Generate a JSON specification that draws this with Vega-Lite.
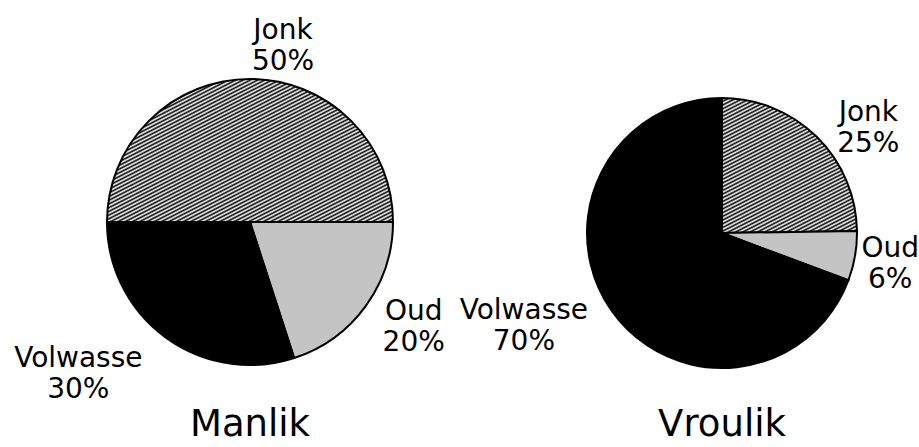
{
  "$schema": "https://vega.github.io/schema/vega-lite/v6.json",
  "padding": {"left": 0, "top": 0, "right": 0, "bottom": -19},
  "background": "white",
  "spacing": 25,
  "bounds": "flush",
  "config": {
    "view": {"stroke": null},
    "font": "DejaVu Sans",
    "title": {"font": "DejaVu Sans", "fontSize": 37, "fontWeight": "normal", "color": "black", "orient": "bottom", "anchor": "middle", "baseline": "alphabetic"},
    "text": {"font": "DejaVu Sans", "fontSize": 28, "color": "black", "lineHeight": 31, "lineBreak": "\n", "align": "center", "baseline": "middle"}
  },
  "datasets": {
    "manlik": [
      {"age": "Jonk", "pct": 50, "rank": 1, "label": "Jonk\n50%"},
      {"age": "Oud", "pct": 20, "rank": 2, "label": "Oud\n20%"},
      {"age": "Volwasse", "pct": 30, "rank": 3, "label": "Volwasse\n30%"}
    ],
    "vroulik": [
      {"age": "Jonk", "pct": 25, "rank": 1, "label": "Jonk\n25%"},
      {"age": "Oud", "pct": 6, "rank": 2, "label": "Oud\n6%"},
      {"age": "Volwasse", "pct": 70, "rank": 3, "label": "Volwasse\n70%"}
    ]
  },
  "hconcat": [
    {
      "width": 500,
      "height": 444,
      "title": {"text": "Manlik", "offset": -37},
      "data": {"name": "manlik"},
      "encoding": {
        "theta": {"field": "pct", "type": "quantitative", "stack": true, "scale": {"range": [-1.5707963, 4.712389]}},
        "order": {"field": "rank", "type": "quantitative"}
      },
      "layer": [
        {
          "mark": {"type": "arc", "outerRadius": 143, "stroke": "black", "strokeWidth": 2},
          "encoding": {
            "color": {
              "condition": {"test": "datum.age === 'Jonk'", "value": {"gradient": "linear", "x1": 0, "y1": 0, "x2": 1.1655, "y2": 1.1434, "stops": [
{"offset":0,"color":"#000"},{"offset":0.0056,"color":"#fff"},{"offset":0.0111,"color":"#000"},{"offset":0.0167,"color":"#fff"},{"offset":0.0222,"color":"#000"},{"offset":0.0278,"color":"#fff"},{"offset":0.0333,"color":"#000"},{"offset":0.0389,"color":"#fff"},{"offset":0.0444,"color":"#000"},{"offset":0.05,"color":"#fff"},{"offset":0.0556,"color":"#000"},{"offset":0.0611,"color":"#fff"},{"offset":0.0667,"color":"#000"},{"offset":0.0722,"color":"#fff"},{"offset":0.0778,"color":"#000"},{"offset":0.0833,"color":"#fff"},{"offset":0.0889,"color":"#000"},{"offset":0.0944,"color":"#fff"},
{"offset":0.1,"color":"#000"},{"offset":0.1056,"color":"#fff"},{"offset":0.1111,"color":"#000"},{"offset":0.1167,"color":"#fff"},{"offset":0.1222,"color":"#000"},{"offset":0.1278,"color":"#fff"},{"offset":0.1333,"color":"#000"},{"offset":0.1389,"color":"#fff"},{"offset":0.1444,"color":"#000"},{"offset":0.15,"color":"#fff"},{"offset":0.1556,"color":"#000"},{"offset":0.1611,"color":"#fff"},{"offset":0.1667,"color":"#000"},{"offset":0.1722,"color":"#fff"},{"offset":0.1778,"color":"#000"},{"offset":0.1833,"color":"#fff"},{"offset":0.1889,"color":"#000"},{"offset":0.1944,"color":"#fff"},
{"offset":0.2,"color":"#000"},{"offset":0.2056,"color":"#fff"},{"offset":0.2111,"color":"#000"},{"offset":0.2167,"color":"#fff"},{"offset":0.2222,"color":"#000"},{"offset":0.2278,"color":"#fff"},{"offset":0.2333,"color":"#000"},{"offset":0.2389,"color":"#fff"},{"offset":0.2444,"color":"#000"},{"offset":0.25,"color":"#fff"},{"offset":0.2556,"color":"#000"},{"offset":0.2611,"color":"#fff"},{"offset":0.2667,"color":"#000"},{"offset":0.2722,"color":"#fff"},{"offset":0.2778,"color":"#000"},{"offset":0.2833,"color":"#fff"},{"offset":0.2889,"color":"#000"},{"offset":0.2944,"color":"#fff"},
{"offset":0.3,"color":"#000"},{"offset":0.3056,"color":"#fff"},{"offset":0.3111,"color":"#000"},{"offset":0.3167,"color":"#fff"},{"offset":0.3222,"color":"#000"},{"offset":0.3278,"color":"#fff"},{"offset":0.3333,"color":"#000"},{"offset":0.3389,"color":"#fff"},{"offset":0.3444,"color":"#000"},{"offset":0.35,"color":"#fff"},{"offset":0.3556,"color":"#000"},{"offset":0.3611,"color":"#fff"},{"offset":0.3667,"color":"#000"},{"offset":0.3722,"color":"#fff"},{"offset":0.3778,"color":"#000"},{"offset":0.3833,"color":"#fff"},{"offset":0.3889,"color":"#000"},{"offset":0.3944,"color":"#fff"},
{"offset":0.4,"color":"#000"},{"offset":0.4056,"color":"#fff"},{"offset":0.4111,"color":"#000"},{"offset":0.4167,"color":"#fff"},{"offset":0.4222,"color":"#000"},{"offset":0.4278,"color":"#fff"},{"offset":0.4333,"color":"#000"},{"offset":0.4389,"color":"#fff"},{"offset":0.4444,"color":"#000"},{"offset":0.45,"color":"#fff"},{"offset":0.4556,"color":"#000"},{"offset":0.4611,"color":"#fff"},{"offset":0.4667,"color":"#000"},{"offset":0.4722,"color":"#fff"},{"offset":0.4778,"color":"#000"},{"offset":0.4833,"color":"#fff"},{"offset":0.4889,"color":"#000"},{"offset":0.4944,"color":"#fff"},
{"offset":0.5,"color":"#000"},{"offset":0.5056,"color":"#fff"},{"offset":0.5111,"color":"#000"},{"offset":0.5167,"color":"#fff"},{"offset":0.5222,"color":"#000"},{"offset":0.5278,"color":"#fff"},{"offset":0.5333,"color":"#000"},{"offset":0.5389,"color":"#fff"},{"offset":0.5444,"color":"#000"},{"offset":0.55,"color":"#fff"},{"offset":0.5556,"color":"#000"},{"offset":0.5611,"color":"#fff"},{"offset":0.5667,"color":"#000"},{"offset":0.5722,"color":"#fff"},{"offset":0.5778,"color":"#000"},{"offset":0.5833,"color":"#fff"},{"offset":0.5889,"color":"#000"},{"offset":0.5944,"color":"#fff"},
{"offset":0.6,"color":"#000"},{"offset":0.6056,"color":"#fff"},{"offset":0.6111,"color":"#000"},{"offset":0.6167,"color":"#fff"},{"offset":0.6222,"color":"#000"},{"offset":0.6278,"color":"#fff"},{"offset":0.6333,"color":"#000"},{"offset":0.6389,"color":"#fff"},{"offset":0.6444,"color":"#000"},{"offset":0.65,"color":"#fff"},{"offset":0.6556,"color":"#000"},{"offset":0.6611,"color":"#fff"},{"offset":0.6667,"color":"#000"},{"offset":0.6722,"color":"#fff"},{"offset":0.6778,"color":"#000"},{"offset":0.6833,"color":"#fff"},{"offset":0.6889,"color":"#000"},{"offset":0.6944,"color":"#fff"},
{"offset":0.7,"color":"#000"},{"offset":0.7056,"color":"#fff"},{"offset":0.7111,"color":"#000"},{"offset":0.7167,"color":"#fff"},{"offset":0.7222,"color":"#000"},{"offset":0.7278,"color":"#fff"},{"offset":0.7333,"color":"#000"},{"offset":0.7389,"color":"#fff"},{"offset":0.7444,"color":"#000"},{"offset":0.75,"color":"#fff"},{"offset":0.7556,"color":"#000"},{"offset":0.7611,"color":"#fff"},{"offset":0.7667,"color":"#000"},{"offset":0.7722,"color":"#fff"},{"offset":0.7778,"color":"#000"},{"offset":0.7833,"color":"#fff"},{"offset":0.7889,"color":"#000"},{"offset":0.7944,"color":"#fff"},
{"offset":0.8,"color":"#000"},{"offset":0.8056,"color":"#fff"},{"offset":0.8111,"color":"#000"},{"offset":0.8167,"color":"#fff"},{"offset":0.8222,"color":"#000"},{"offset":0.8278,"color":"#fff"},{"offset":0.8333,"color":"#000"},{"offset":0.8389,"color":"#fff"},{"offset":0.8444,"color":"#000"},{"offset":0.85,"color":"#fff"},{"offset":0.8556,"color":"#000"},{"offset":0.8611,"color":"#fff"},{"offset":0.8667,"color":"#000"},{"offset":0.8722,"color":"#fff"},{"offset":0.8778,"color":"#000"},{"offset":0.8833,"color":"#fff"},{"offset":0.8889,"color":"#000"},{"offset":0.8944,"color":"#fff"},
{"offset":0.9,"color":"#000"},{"offset":0.9056,"color":"#fff"},{"offset":0.9111,"color":"#000"},{"offset":0.9167,"color":"#fff"},{"offset":0.9222,"color":"#000"},{"offset":0.9278,"color":"#fff"},{"offset":0.9333,"color":"#000"},{"offset":0.9389,"color":"#fff"},{"offset":0.9444,"color":"#000"},{"offset":0.95,"color":"#fff"},{"offset":0.9556,"color":"#000"},{"offset":0.9611,"color":"#fff"},{"offset":0.9667,"color":"#000"},{"offset":0.9722,"color":"#fff"},{"offset":0.9778,"color":"#000"},{"offset":0.9833,"color":"#fff"},{"offset":0.9889,"color":"#000"},{"offset":0.9944,"color":"#fff"},
{"offset":1,"color":"#000"}]}},
              "field": "age", "type": "nominal", "legend": null,
              "scale": {"domain": ["Jonk", "Oud", "Volwasse"], "range": ["#808080", "#c4c4c4", "#000000"]}
            }
          }
        },
        {
          "mark": {"type": "text", "radius": 190,
            "dx": {"expr": "datum.age === 'Jonk' ? 33 : datum.age === 'Oud' ? 10 : -60"},
            "dy": {"expr": "datum.age === 'Jonk' ? -1 : datum.age === 'Oud' ? -22 : -17"}},
          "encoding": {
            "detail": {"field": "age", "type": "nominal"},
            "text": {"field": "label", "type": "nominal"}
          }
        }
      ]
    },
    {
      "width": 394,
      "height": 466,
      "title": {"text": "Vroulik", "offset": -59},
      "data": {"name": "vroulik"},
      "encoding": {
        "theta": {"field": "pct", "type": "quantitative", "stack": true},
        "order": {"field": "rank", "type": "quantitative"}
      },
      "layer": [
        {
          "mark": {"type": "arc", "outerRadius": 135, "stroke": "black", "strokeWidth": 2},
          "encoding": {
            "color": {
              "condition": {"test": "datum.age === 'Jonk'", "value": {"gradient": "linear", "x1": 0, "y1": 0, "x2": 1, "y2": 1.963, "stops": [
{"offset":0,"color":"#000"},{"offset":0.0056,"color":"#fff"},{"offset":0.0111,"color":"#000"},{"offset":0.0167,"color":"#fff"},{"offset":0.0222,"color":"#000"},{"offset":0.0278,"color":"#fff"},{"offset":0.0333,"color":"#000"},{"offset":0.0389,"color":"#fff"},{"offset":0.0444,"color":"#000"},{"offset":0.05,"color":"#fff"},{"offset":0.0556,"color":"#000"},{"offset":0.0611,"color":"#fff"},{"offset":0.0667,"color":"#000"},{"offset":0.0722,"color":"#fff"},{"offset":0.0778,"color":"#000"},{"offset":0.0833,"color":"#fff"},{"offset":0.0889,"color":"#000"},{"offset":0.0944,"color":"#fff"},
{"offset":0.1,"color":"#000"},{"offset":0.1056,"color":"#fff"},{"offset":0.1111,"color":"#000"},{"offset":0.1167,"color":"#fff"},{"offset":0.1222,"color":"#000"},{"offset":0.1278,"color":"#fff"},{"offset":0.1333,"color":"#000"},{"offset":0.1389,"color":"#fff"},{"offset":0.1444,"color":"#000"},{"offset":0.15,"color":"#fff"},{"offset":0.1556,"color":"#000"},{"offset":0.1611,"color":"#fff"},{"offset":0.1667,"color":"#000"},{"offset":0.1722,"color":"#fff"},{"offset":0.1778,"color":"#000"},{"offset":0.1833,"color":"#fff"},{"offset":0.1889,"color":"#000"},{"offset":0.1944,"color":"#fff"},
{"offset":0.2,"color":"#000"},{"offset":0.2056,"color":"#fff"},{"offset":0.2111,"color":"#000"},{"offset":0.2167,"color":"#fff"},{"offset":0.2222,"color":"#000"},{"offset":0.2278,"color":"#fff"},{"offset":0.2333,"color":"#000"},{"offset":0.2389,"color":"#fff"},{"offset":0.2444,"color":"#000"},{"offset":0.25,"color":"#fff"},{"offset":0.2556,"color":"#000"},{"offset":0.2611,"color":"#fff"},{"offset":0.2667,"color":"#000"},{"offset":0.2722,"color":"#fff"},{"offset":0.2778,"color":"#000"},{"offset":0.2833,"color":"#fff"},{"offset":0.2889,"color":"#000"},{"offset":0.2944,"color":"#fff"},
{"offset":0.3,"color":"#000"},{"offset":0.3056,"color":"#fff"},{"offset":0.3111,"color":"#000"},{"offset":0.3167,"color":"#fff"},{"offset":0.3222,"color":"#000"},{"offset":0.3278,"color":"#fff"},{"offset":0.3333,"color":"#000"},{"offset":0.3389,"color":"#fff"},{"offset":0.3444,"color":"#000"},{"offset":0.35,"color":"#fff"},{"offset":0.3556,"color":"#000"},{"offset":0.3611,"color":"#fff"},{"offset":0.3667,"color":"#000"},{"offset":0.3722,"color":"#fff"},{"offset":0.3778,"color":"#000"},{"offset":0.3833,"color":"#fff"},{"offset":0.3889,"color":"#000"},{"offset":0.3944,"color":"#fff"},
{"offset":0.4,"color":"#000"},{"offset":0.4056,"color":"#fff"},{"offset":0.4111,"color":"#000"},{"offset":0.4167,"color":"#fff"},{"offset":0.4222,"color":"#000"},{"offset":0.4278,"color":"#fff"},{"offset":0.4333,"color":"#000"},{"offset":0.4389,"color":"#fff"},{"offset":0.4444,"color":"#000"},{"offset":0.45,"color":"#fff"},{"offset":0.4556,"color":"#000"},{"offset":0.4611,"color":"#fff"},{"offset":0.4667,"color":"#000"},{"offset":0.4722,"color":"#fff"},{"offset":0.4778,"color":"#000"},{"offset":0.4833,"color":"#fff"},{"offset":0.4889,"color":"#000"},{"offset":0.4944,"color":"#fff"},
{"offset":0.5,"color":"#000"},{"offset":0.5056,"color":"#fff"},{"offset":0.5111,"color":"#000"},{"offset":0.5167,"color":"#fff"},{"offset":0.5222,"color":"#000"},{"offset":0.5278,"color":"#fff"},{"offset":0.5333,"color":"#000"},{"offset":0.5389,"color":"#fff"},{"offset":0.5444,"color":"#000"},{"offset":0.55,"color":"#fff"},{"offset":0.5556,"color":"#000"},{"offset":0.5611,"color":"#fff"},{"offset":0.5667,"color":"#000"},{"offset":0.5722,"color":"#fff"},{"offset":0.5778,"color":"#000"},{"offset":0.5833,"color":"#fff"},{"offset":0.5889,"color":"#000"},{"offset":0.5944,"color":"#fff"},
{"offset":0.6,"color":"#000"},{"offset":0.6056,"color":"#fff"},{"offset":0.6111,"color":"#000"},{"offset":0.6167,"color":"#fff"},{"offset":0.6222,"color":"#000"},{"offset":0.6278,"color":"#fff"},{"offset":0.6333,"color":"#000"},{"offset":0.6389,"color":"#fff"},{"offset":0.6444,"color":"#000"},{"offset":0.65,"color":"#fff"},{"offset":0.6556,"color":"#000"},{"offset":0.6611,"color":"#fff"},{"offset":0.6667,"color":"#000"},{"offset":0.6722,"color":"#fff"},{"offset":0.6778,"color":"#000"},{"offset":0.6833,"color":"#fff"},{"offset":0.6889,"color":"#000"},{"offset":0.6944,"color":"#fff"},
{"offset":0.7,"color":"#000"},{"offset":0.7056,"color":"#fff"},{"offset":0.7111,"color":"#000"},{"offset":0.7167,"color":"#fff"},{"offset":0.7222,"color":"#000"},{"offset":0.7278,"color":"#fff"},{"offset":0.7333,"color":"#000"},{"offset":0.7389,"color":"#fff"},{"offset":0.7444,"color":"#000"},{"offset":0.75,"color":"#fff"},{"offset":0.7556,"color":"#000"},{"offset":0.7611,"color":"#fff"},{"offset":0.7667,"color":"#000"},{"offset":0.7722,"color":"#fff"},{"offset":0.7778,"color":"#000"},{"offset":0.7833,"color":"#fff"},{"offset":0.7889,"color":"#000"},{"offset":0.7944,"color":"#fff"},
{"offset":0.8,"color":"#000"},{"offset":0.8056,"color":"#fff"},{"offset":0.8111,"color":"#000"},{"offset":0.8167,"color":"#fff"},{"offset":0.8222,"color":"#000"},{"offset":0.8278,"color":"#fff"},{"offset":0.8333,"color":"#000"},{"offset":0.8389,"color":"#fff"},{"offset":0.8444,"color":"#000"},{"offset":0.85,"color":"#fff"},{"offset":0.8556,"color":"#000"},{"offset":0.8611,"color":"#fff"},{"offset":0.8667,"color":"#000"},{"offset":0.8722,"color":"#fff"},{"offset":0.8778,"color":"#000"},{"offset":0.8833,"color":"#fff"},{"offset":0.8889,"color":"#000"},{"offset":0.8944,"color":"#fff"},
{"offset":0.9,"color":"#000"},{"offset":0.9056,"color":"#fff"},{"offset":0.9111,"color":"#000"},{"offset":0.9167,"color":"#fff"},{"offset":0.9222,"color":"#000"},{"offset":0.9278,"color":"#fff"},{"offset":0.9333,"color":"#000"},{"offset":0.9389,"color":"#fff"},{"offset":0.9444,"color":"#000"},{"offset":0.95,"color":"#fff"},{"offset":0.9556,"color":"#000"},{"offset":0.9611,"color":"#fff"},{"offset":0.9667,"color":"#000"},{"offset":0.9722,"color":"#fff"},{"offset":0.9778,"color":"#000"},{"offset":0.9833,"color":"#fff"},{"offset":0.9889,"color":"#000"},{"offset":0.9944,"color":"#fff"},
{"offset":1,"color":"#000"}]}},
              "field": "age", "type": "nominal", "legend": null,
              "scale": {"domain": ["Jonk", "Oud", "Volwasse"], "range": ["#808080", "#c4c4c4", "#000000"]}
            }
          }
        },
        {
          "mark": {"type": "text", "radius": 190,
            "dx": {"expr": "datum.age === 'Jonk' ? 13 : datum.age === 'Oud' ? -19 : -42"},
            "dy": {"expr": "datum.age === 'Jonk' ? 15 : datum.age === 'Oud' ? -16 : -30"}},
          "encoding": {
            "detail": {"field": "age", "type": "nominal"},
            "text": {"field": "label", "type": "nominal"}
          }
        }
      ]
    }
  ]
}
